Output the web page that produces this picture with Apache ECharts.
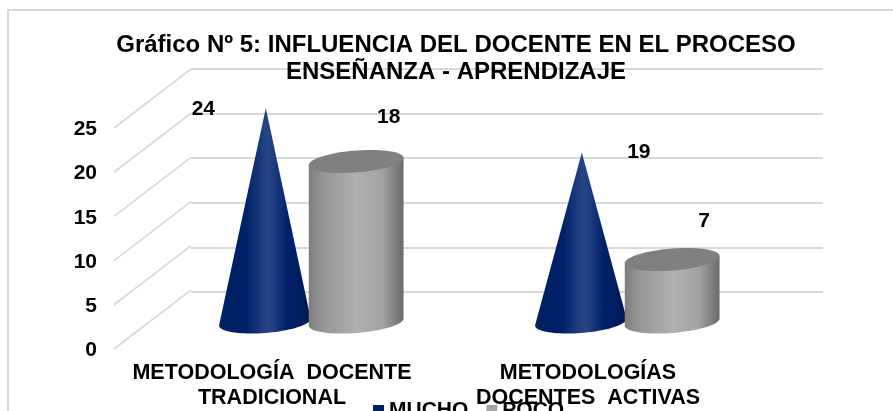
<!DOCTYPE html>
<html>
<head>
<meta charset="utf-8">
<style>html,body{margin:0;padding:0;background:#fff;overflow:hidden}#c{width:893px;height:411px}</style>
<script src="https://cdn.jsdelivr.net/npm/echarts@6/dist/echarts.min.js"></script>
</head>
<body>
<div id="c"></div>
<script>
const titleText = 'Gráfico Nº 5: INFLUENCIA DEL DOCENTE EN EL PROCESO\nENSEÑANZA - APRENDIZAJE';
const categories = ['METODOLOGÍA  DOCENTE\nTRADICIONAL', 'METODOLOGÍAS\nDOCENTES  ACTIVAS'];
const mucho = [24, 19];
const poco = [18, 7];
const yTicks = [0, 5, 10, 15, 20, 25];

const FONT = '"Liberation Sans", Arial, sans-serif';
const TXT = '#000';
const GRID = '#d9d9d9';
const front = {left: 114, top: 128, width: 632, height: 223};
const mid   = {left: 152.5, top: 99, width: 632, height: 223};
const back  = {left: 191, top: 69, width: 632, height: 223};
const depthX = back.left - front.left, depthY = back.top - front.top;

const coneFill = {type:'linear',x:0,y:0,x2:1,y2:0,colorStops:[
  {offset:0,color:'#00205f'},{offset:0.3,color:'#00216a'},{offset:0.52,color:'#274585'},
  {offset:0.6,color:'#1f3c80'},{offset:0.75,color:'#00216a'},{offset:1,color:'#001a55'}]};
const cylFill = {type:'linear',x:0,y:0,x2:1,y2:0,colorStops:[
  {offset:0,color:'#7e7e7e'},{offset:0.15,color:'#959595'},{offset:0.5,color:'#b0b0b0'},
  {offset:0.78,color:'#a2a2a2'},{offset:1,color:'#6a6a6a'}]};
const cylTop = '#808080';
const RIM_B = 11, RIM_TILT = -0.075;

function rim(cx, cy, a, t0, t1, n) {
  const pts = [];
  for (let i = 0; i <= n; i++) {
    const t = t0 + (t1 - t0) * i / n;
    pts.push([cx + a * Math.cos(t), cy + RIM_B * Math.sin(t) + RIM_TILT * a * Math.cos(t)]);
  }
  return pts;
}
function valueLabel(text, x, y) {
  return {type:'text', z2:30, style:{text:String(text), x, y, fill:TXT,
    font:'bold 21px ' + FONT, align:'center', verticalAlign:'middle'}};
}
function coneItem(params, api) {
  const band = api.size([1, 0])[0];
  const cx = api.coord([api.value(0), 0])[0] - 0.1445 * band;
  const base = api.coord([api.value(0), 0])[1];
  const tip = api.coord([api.value(0), api.value(1)])[1];
  const a = 0.145 * band;
  const nudge = [[-62.5, 1], [57, 0]][api.value(0)];
  const pts = [[cx + 1, tip]].concat(rim(cx, base, a, 0, Math.PI, 40));
  return {type:'group', children:[
    {type:'polygon', shape:{points:pts}, style:{fill:coneFill}},
    valueLabel(api.value(1), cx + 1 + nudge[0], tip + nudge[1])
  ]};
}
function cylItem(params, api) {
  const band = api.size([1, 0])[0];
  const cx = api.coord([api.value(0), 0])[0] + 0.1445 * band;
  const base = api.coord([api.value(0), 0])[1];
  const top = api.coord([api.value(0), api.value(1)])[1];
  const a = 0.15 * band;
  const nudge = [[32.5, -44], [32, -38]][api.value(0)];
  const tiltY = RIM_TILT * a;
  const side = [[cx + a, top + tiltY]].concat(rim(cx, base, a, 0, Math.PI, 40), [[cx - a, top - tiltY]]);
  return {type:'group', children:[
    {type:'polygon', shape:{points:side}, style:{fill:cylFill}},
    {type:'polygon', shape:{points:rim(cx, top, a, 0, 2 * Math.PI, 60)}, style:{fill:cylTop}},
    valueLabel(api.value(1), cx + nudge[0], top + nudge[1])
  ]};
}
function depthLineItem(params, api) {
  const p = api.coord([0, api.value(0)]);
  const x = params.coordSys.x;
  return {type:'line', shape:{x1:x, y1:p[1], x2:x + depthX, y2:p[1] + depthY},
    style:{stroke:GRID, lineWidth:1.8}};
}
const chart = echarts.init(document.getElementById('c'), null, {renderer:'canvas'});
chart.setOption({
  animation:false,
  backgroundColor:'#fff',
  textStyle:{fontFamily:FONT},
  title:{text:titleText, left:456, top:32, padding:0, textAlign:'center',
    textStyle:{fontFamily:FONT, fontWeight:'bold', fontSize:24, lineHeight:27, color:TXT}},
  legend:{left:373, top:400, padding:0, icon:'rect', itemWidth:11, itemHeight:11, itemGap:18,
    data:['MUCHO','POCO'], selectedMode:false,
    textStyle:{fontFamily:FONT, fontWeight:'bold', fontSize:21, color:TXT}},
  grid:[
    Object.assign({}, front, {containLabel:false}),
    Object.assign({}, mid, {containLabel:false}),
    Object.assign({}, back, {containLabel:false})
  ],
  xAxis:[
    {gridIndex:0, type:'category', data:categories, axisLine:{show:false}, axisTick:{show:false},
      axisLabel:{interval:0, margin:12, fontFamily:FONT, fontWeight:'bold', fontSize:21.5, lineHeight:25, color:TXT, hideOverlap:false}},
    {gridIndex:1, type:'category', data:categories, show:false},
    {gridIndex:2, type:'category', data:categories, show:false}
  ],
  yAxis:[
    {gridIndex:0, type:'value', min:0, max:25, interval:5, axisLine:{show:false}, axisTick:{show:false},
      splitLine:{show:false},
      axisLabel:{margin:17, verticalAlign:'top', lineHeight:3, fontFamily:FONT, fontWeight:'bold', fontSize:21, color:TXT}},
    {gridIndex:1, type:'value', min:0, max:25, interval:5, show:false, splitLine:{show:false}},
    {gridIndex:2, type:'value', min:0, max:25, interval:5, axisLine:{show:false}, axisTick:{show:false},
      axisLabel:{show:false}, splitLine:{show:true, lineStyle:{color:GRID, width:1.8}}}
  ],
  graphic:[{type:'polyline', silent:true, z:-1,
    shape:{points:[[8,420],[8,10],[900,10]]}, style:{stroke:'#d9d9d9', lineWidth:2, fill:'none'}}],
  series:[
    {type:'custom', name:'depth', xAxisIndex:0, yAxisIndex:0, silent:true, z:1,
      data:yTicks.map(v => [v]), encode:{y:0}, renderItem:depthLineItem, clip:false},
    {type:'custom', name:'MUCHO', xAxisIndex:1, yAxisIndex:1, z:3, itemStyle:{color:'#00205f'},
      data:mucho.map((v,i) => [i,v]), encode:{x:0,y:1}, renderItem:coneItem, clip:false},
    {type:'custom', name:'POCO', xAxisIndex:1, yAxisIndex:1, z:4, itemStyle:{color:'#a6a6a6'},
      data:poco.map((v,i) => [i,v]), encode:{x:0,y:1}, renderItem:cylItem, clip:false}
  ]
});
</script>
</body>
</html>
